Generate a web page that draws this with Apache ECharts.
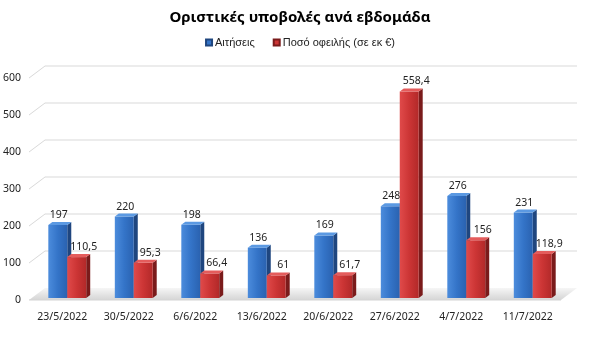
<!DOCTYPE html>
<html>
<head>
<meta charset="utf-8">
<script src="https://cdn.jsdelivr.net/npm/echarts@6/dist/echarts.min.js"></script>
<style>
  html, body { margin: 0; padding: 0; background: #fff; }
  #chart { width: 600px; height: 345px; }
</style>
</head>
<body>
<div id="chart"></div>
<script>
// Weekly final submissions
const categories = ['23/5/2022', '30/5/2022', '6/6/2022', '13/6/2022', '20/6/2022', '27/6/2022', '4/7/2022', '11/7/2022'];
const applications = [197, 220, 198, 136, 169, 248, 276, 231];
const amounts = [110.5, 95.3, 66.4, 61, 61.7, 558.4, 156, 118.9];
const yTicks = [0, 100, 200, 300, 400, 500, 600];

// 3D look: depth of the back wall and of each bar, in pixels
const WALL_DX = 16, WALL_DY = 12;
const BAR_DX = 4, BAR_DY = 3;
const BAR_OFF_X = 5, BAR_OFF_Y = -2;
const LABEL_FONT = '10.5px "Noto Sans", sans-serif';

const fmt = v => String(v).replace('.', ',');

const palettes = [
  { front: ['#4c8cdc', '#3474c8', '#2a62b0'], side: '#1f467f', top: '#5b99e2' },
  { front: ['#e04a4a', '#cc3535', '#b22929'], side: '#7a1b1b', top: '#e45c5c' }
];

function barRenderer(slot) {
  const pal = palettes[slot];
  return function (params, api) {
    const idx = api.value(0);
    const v = api.value(1);
    const base = api.coord([idx, 0]);
    const top = api.coord([idx, v]);
    const band = api.size([1, 0])[0];
    const w = band * 0.285;
    const x0 = base[0] + (slot === 0 ? -w : 0) + BAR_OFF_X;
    const x1 = x0 + w;
    const yb = base[1] + BAR_OFF_Y;
    const yt = top[1] + BAR_OFF_Y;
    return {
      type: 'group',
      children: [
        {
          type: 'polygon',
          shape: { points: [[x1, yt], [x1 + BAR_DX, yt - BAR_DY], [x1 + BAR_DX, yb - BAR_DY], [x1, yb]] },
          style: { fill: pal.side }
        },
        {
          type: 'rect',
          shape: { x: x0, y: yt, width: w, height: yb - yt },
          style: {
            fill: new echarts.graphic.LinearGradient(0, 0, 1, 0, [
              { offset: 0, color: pal.front[0] },
              { offset: 0.5, color: pal.front[1] },
              { offset: 1, color: pal.front[2] }
            ])
          }
        },
        {
          type: 'polygon',
          shape: { points: [[x0, yt], [x0 + BAR_DX, yt - BAR_DY], [x1 + BAR_DX, yt - BAR_DY], [x1, yt]] },
          style: { fill: pal.top }
        },
        {
          type: 'text',
          z2: 100,
          style: {
            text: fmt(v),
            x: (x0 + x1) / 2 + (slot === 0 ? 1 : 7),
            y: yt - 10,
            align: 'center',
            verticalAlign: 'middle',
            fill: '#222',
            font: LABEL_FONT
          }
        }
      ]
    };
  };
}

// Back wall gridlines, the left side wall edges and the floor
function frameRenderer(params, api) {
  const cs = params.coordSys;
  const v = api.value(1);
  const y = api.coord([0, v])[1];
  const children = [];
  if (v === 0) {
    children.push({
      type: 'polygon',
      shape: { points: [[cs.x, y], [cs.x + WALL_DX, y - WALL_DY], [cs.x + cs.width + WALL_DX, y - WALL_DY], [cs.x + cs.width, y]] },
      style: {
        fill: new echarts.graphic.LinearGradient(0, 0, 0, 1, [
          { offset: 0, color: '#f6f6f6' },
          { offset: 0.6, color: '#e2e2e2' },
          { offset: 1, color: '#d6d6d6' }
        ])
      }
    });
    children.push({
      type: 'line',
      shape: { x1: cs.x, y1: y, x2: cs.x + cs.width, y2: y },
      style: { stroke: '#d4d4d4', lineWidth: 1 }
    });
  } else {
    children.push({
      type: 'polyline',
      shape: { points: [[cs.x, y], [cs.x + WALL_DX, y - WALL_DY], [cs.x + cs.width + WALL_DX, y - WALL_DY]] },
      style: { stroke: '#d9d9d9', lineWidth: 1, fill: null }
    });
  }
  return { type: 'group', children };
}

const chart = echarts.init(document.getElementById('chart'), null, { renderer: 'canvas' });
chart.setOption({
  animation: false,
  backgroundColor: '#ffffff',
  title: {
    text: 'Οριστικές υποβολές ανά εβδομάδα',
    left: 'center',
    top: 5,
    textStyle: { fontFamily: '"Noto Sans", sans-serif', fontSize: 15, fontWeight: 'bold', color: '#000' }
  },
  legend: {
    top: 32,
    left: 'center',
    itemWidth: 6,
    itemHeight: 6,
    itemGap: 18,
    icon: 'rect',
    textStyle: { fontFamily: '"Liberation Sans", Arial, sans-serif', fontSize: 11, color: '#222', padding: [0, 0, 0, -2] },
    data: ['Αιτήσεις', 'Ποσό οφειλής (σε εκ €)']
  },
  grid: { left: 27, right: 39, top: 78, bottom: 45 },
  xAxis: {
    type: 'category',
    data: categories,
    axisLine: { show: false },
    axisTick: { show: false },
    axisLabel: { interval: 0, margin: 12, fontFamily: '"Noto Sans", sans-serif', fontSize: 10.5, color: '#222' }
  },
  yAxis: {
    type: 'value',
    min: 0,
    max: 600,
    interval: 100,
    splitLine: { show: false },
    axisLine: { show: false },
    axisTick: { show: false },
    axisLabel: { margin: 8, fontFamily: '"Noto Sans", sans-serif', fontSize: 10.5, color: '#222' }
  },
  series: [
    {
      type: 'custom',
      name: 'frame',
      renderItem: frameRenderer,
      data: yTicks.map(t => [0, t]),
      z: 1,
      silent: true,
      clip: false
    },
    {
      type: 'custom',
      name: 'Αιτήσεις',
      renderItem: barRenderer(0),
      data: applications.map((v, i) => [i, v]),
      itemStyle: { color: '#3474c8', borderColor: '#1f467f', borderWidth: 1 },
      z: 3,
      clip: false
    },
    {
      type: 'custom',
      name: 'Ποσό οφειλής (σε εκ €)',
      renderItem: barRenderer(1),
      data: amounts.map((v, i) => [i, v]),
      itemStyle: { color: '#cc3535', borderColor: '#7a1b1b', borderWidth: 1 },
      z: 4,
      clip: false
    }
  ]
});
</script>
</body>
</html>
